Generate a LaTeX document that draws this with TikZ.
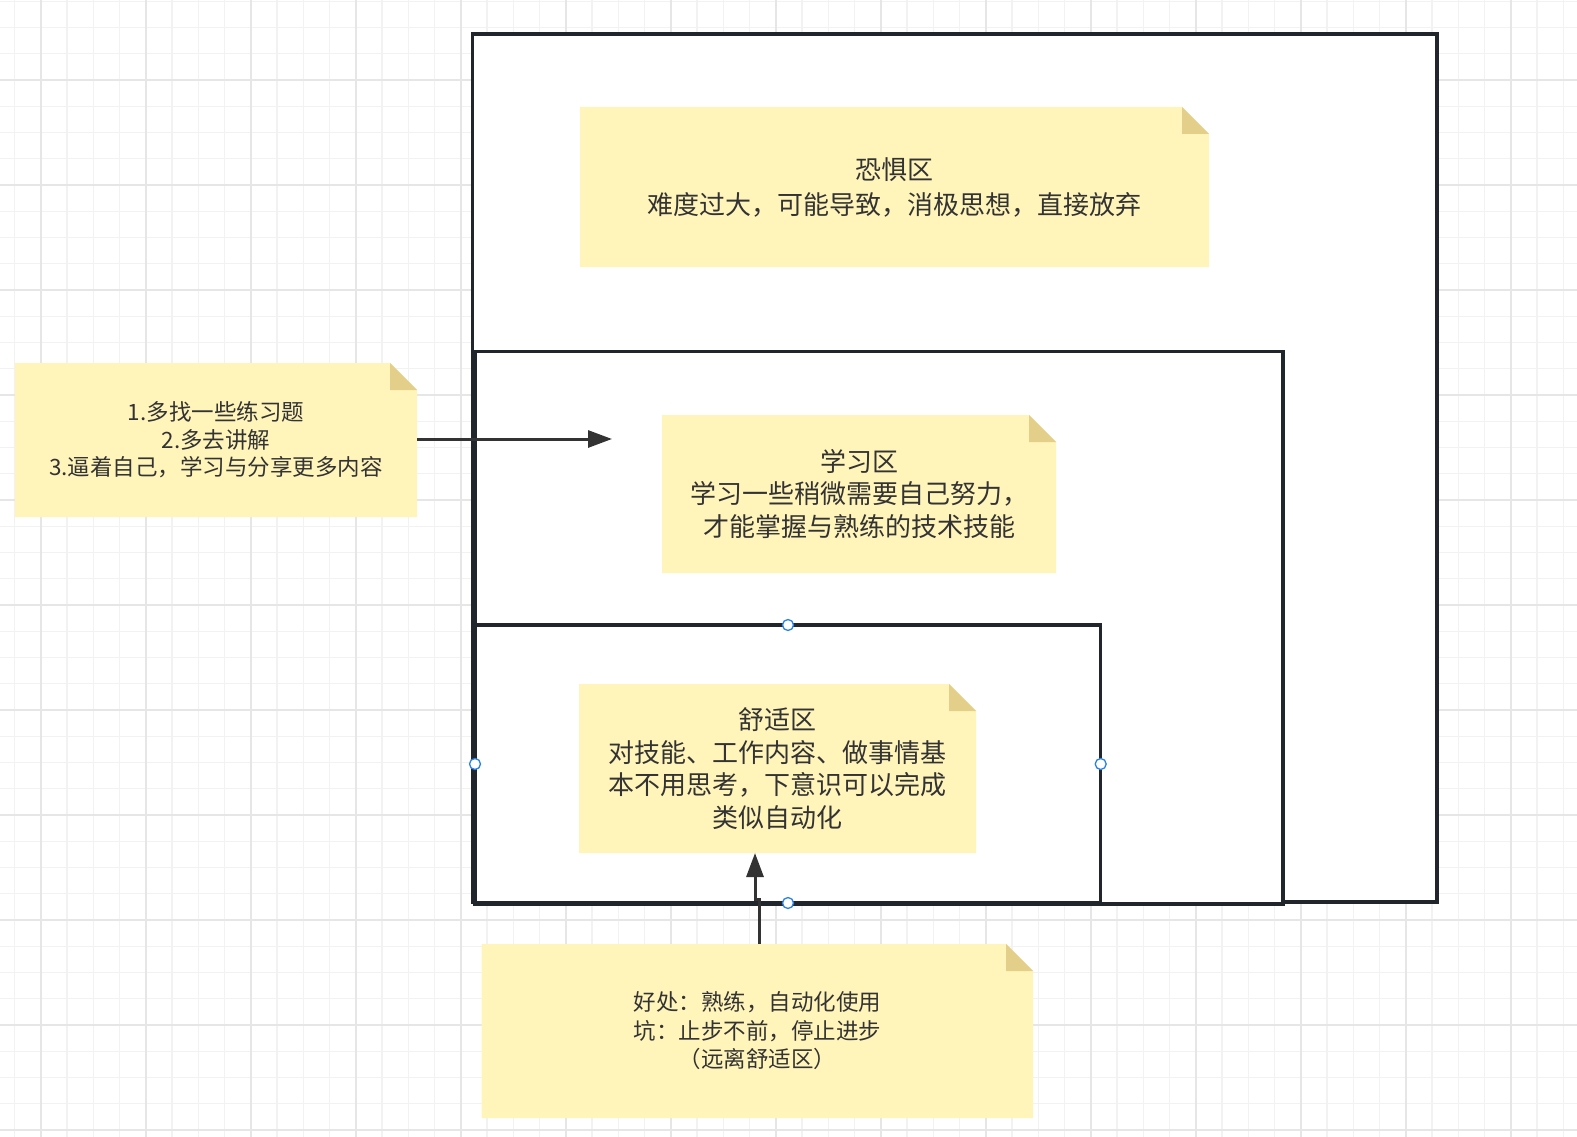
\documentclass[tikz,border=0pt]{standalone}
\usepackage{fontspec}
\setmainfont{Noto Sans CJK SC}
\usetikzlibrary{arrows.meta}
\definecolor{gridminor}{RGB}{242,242,242}
\definecolor{gridmajor}{RGB}{230,230,230}
\definecolor{zoneline}{RGB}{33,38,44}
\definecolor{notefill}{RGB}{255,245,187}
\definecolor{foldfill}{RGB}{227,207,137}
\definecolor{notetext}{RGB}{51,51,51}
\definecolor{arrowcol}{RGB}{51,51,51}
\definecolor{handleblue}{RGB}{42,130,228}
\pgfdeclarelayer{gridlayer}
\pgfdeclarelayer{notelayer}
\pgfsetlayers{gridlayer,notelayer,main}
\newcommand\notebackdrop[1]{%
  \fill[notefill] (#1.south west) -- (#1.north west) -- ([xshift=-27pt]#1.north east)
    -- ([yshift=-27pt]#1.north east) -- (#1.south east) -- cycle;
  \fill[foldfill] ([xshift=-27pt]#1.north east) -- ([xshift=-27pt,yshift=-27pt]#1.north east)
    -- ([yshift=-27pt]#1.north east) -- cycle;}
\begin{document}
\begin{tikzpicture}[x=1pt,y=-1pt,
  zone/.style={draw=zoneline,line width=3.2pt,fill=white},
  notebox/.style={inner sep=0pt,outer sep=0pt,align=center,text=notetext},
  flowarrow/.style={draw=arrowcol,line width=3pt,-{Triangle[length=24pt,width=17pt]}},
  handle/.style={circle,draw=handleblue,fill=white,line width=1.3pt,minimum size=11pt,inner sep=0pt}]
\useasboundingbox (0,0) rectangle (1577,1137);
\begin{pgfonlayer}{gridlayer}
  \fill[white] (0,0) rectangle (1577,1137);
  \foreach \i in {0,...,59} \draw[gridminor,line width=1.4pt] ({14.45+\i*26.25},0) -- ++(0,1137);
  \foreach \j in {0,...,43} \draw[gridminor,line width=1.4pt] (0,{1.25+\j*26.25}) -- ++(1577,0);
  \foreach \k in {0,...,14} \draw[gridmajor,line width=1.8pt] ({40.7+\k*105},0) -- ++(0,1137);
  \foreach \m in {0,...,10} \draw[gridmajor,line width=1.8pt] (0,{80+\m*105}) -- ++(1577,0);
  % zones
  \draw[zone] (472.5,34) rectangle (1437,902);
  \draw[zone] (475,351.7) rectangle (1283,904);
  \draw[zone] (475,625) rectangle (1100.7,903);
\end{pgfonlayer}
% notes
\node[notebox,minimum width=629pt,minimum height=160pt,font=\fontsize{26}{35}\selectfont] (fear) at (894.5,187)
  {恐惧区\\难度过大，可能导致，消极思想，直接放弃};
\node[notebox,minimum width=394pt,minimum height=158pt,font=\fontsize{26}{32.5}\selectfont] (learn) at (859,494)
  {学习区\\学习一些稍微需要自己努力，\\才能掌握与熟练的技术技能};
\node[notebox,minimum width=397pt,minimum height=169pt,font=\fontsize{26}{32.5}\selectfont] (comfort) at (777.5,768.5)
  {舒适区\\对技能、工作内容、做事情基\\本不用思考，下意识可以完成\\类似自动化};
\node[notebox,minimum width=402pt,minimum height=154pt,font=\fontsize{22.5}{27.5}\selectfont] (tips) at (216,440)
  {1.多找一些练习题\\2.多去讲解\\3.逼着自己，学习与分享更多内容};
\node[notebox,minimum width=551.5pt,minimum height=174pt,font=\fontsize{22.5}{28.5}\selectfont] (pros) at (757.3,1031)
  {好处：熟练，自动化使用\\坑：止步不前，停止进步\\（远离舒适区）};
\begin{pgfonlayer}{notelayer}
  \notebackdrop{fear}
  \notebackdrop{learn}
  \notebackdrop{comfort}
  \notebackdrop{tips}
  \notebackdrop{pros}
\end{pgfonlayer}
% handles on comfort zone
\node[handle] (h1) at (788,625) {};
\node[handle] (h2) at (475,764) {};
\node[handle] (h3) at (1100.7,764) {};
\node[handle] (h4) at (788,903) {};
% connectors
\coordinate (tipsend) at (612,439);
\draw[flowarrow] (tips.east |- tipsend) -- (tipsend);
\coordinate (jog1) at (759,899);
\coordinate (jog2) at (755,899);
\draw[flowarrow] (pros.north -| jog1) -- (jog1) -- (jog2) -- (comfort.south -| jog2);
\end{tikzpicture}
\end{document}
